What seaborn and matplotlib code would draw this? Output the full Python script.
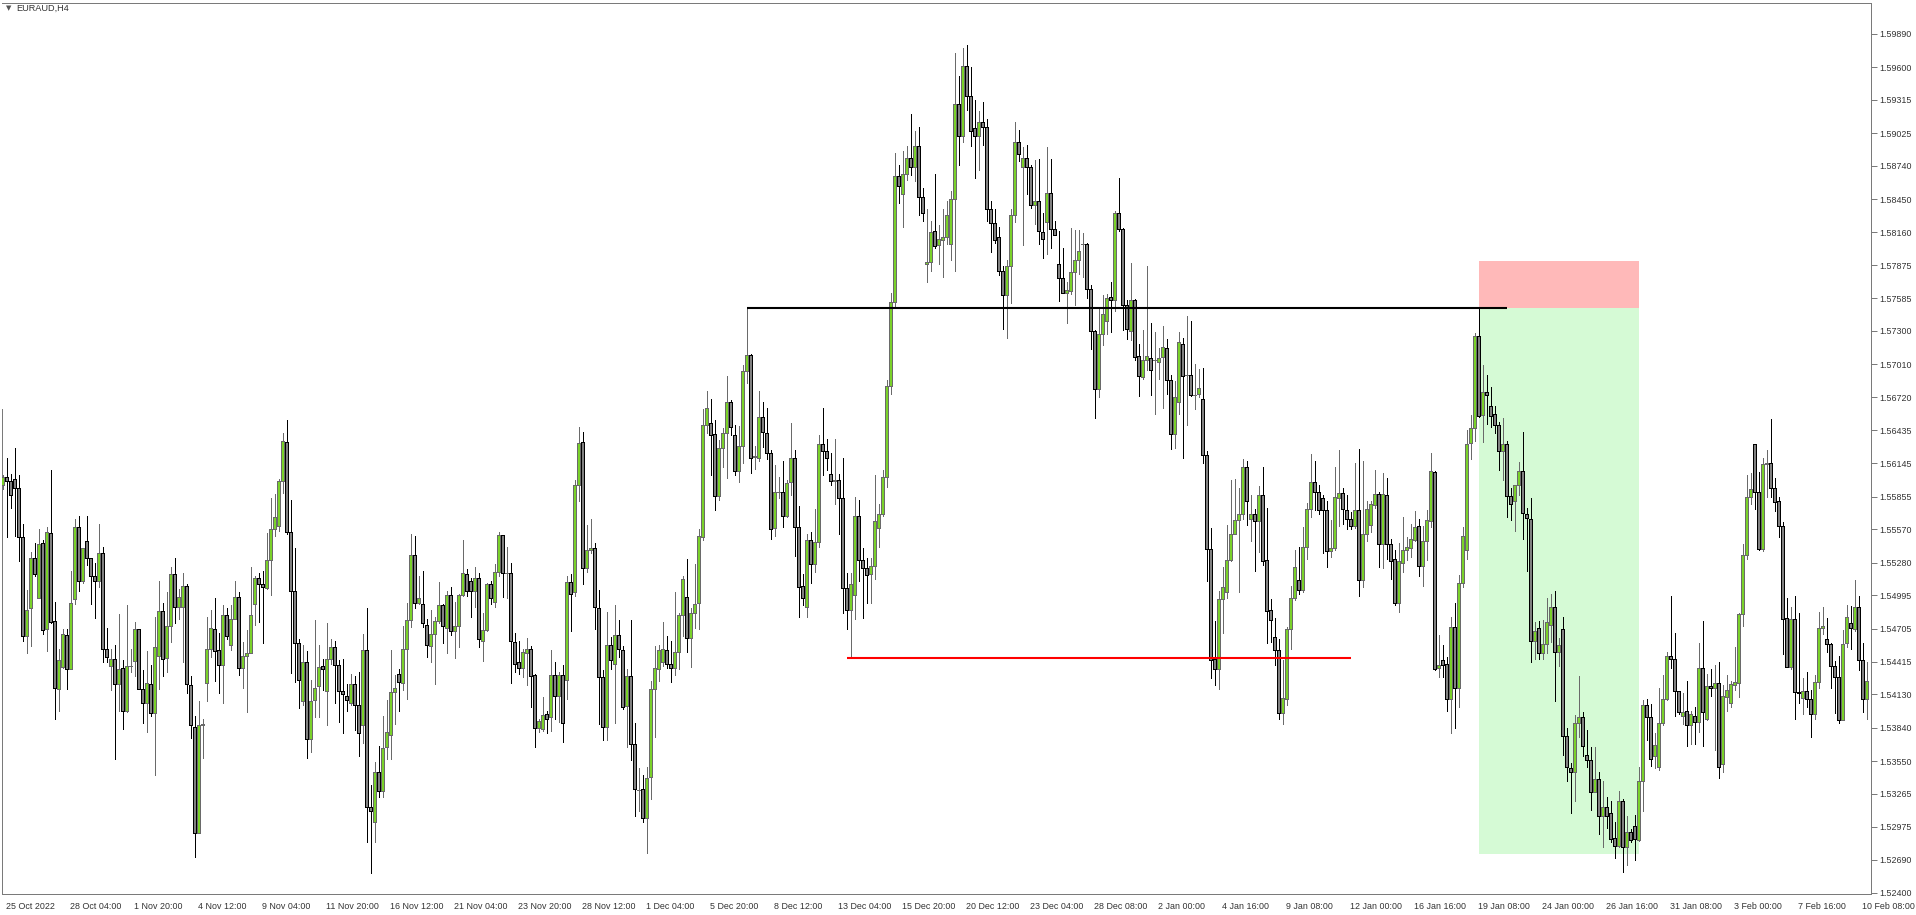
import numpy as np
import matplotlib
matplotlib.use("Agg")
import matplotlib.pyplot as plt
from matplotlib import font_manager
from matplotlib.transforms import ScaledTranslation
import seaborn as sns

symbol = "EURAUD,H4"

# EURAUD H4 candles, 25 Oct 2022 12:00 .. 10 Feb 2023 16:00
opens = [
    1.5596, 1.5603, 1.5599, 1.5601, 1.5593, 1.5550, 1.5464, 1.5488, 1.5532, 1.5497,
    1.5545, 1.5470, 1.5554, 1.5477, 1.5418, 1.5437, 1.5465, 1.5435, 1.5496, 1.5559,
    1.5512, 1.5547, 1.5532, 1.5516, 1.5512, 1.5536, 1.5453, 1.5438, 1.5444, 1.5422,
    1.5436, 1.5399, 1.5438, 1.5442, 1.5470, 1.5418, 1.5406, 1.5422, 1.5397, 1.5447,
    1.5486, 1.5445, 1.5473, 1.5518, 1.5489, 1.5489, 1.5508, 1.5421, 1.5385, 1.5292,
    1.5386, 1.5423, 1.5453, 1.5470, 1.5452, 1.5439, 1.5482, 1.5456, 1.5479, 1.5498,
    1.5436,
    1.5447, 1.5449, 1.5492, 1.5515, 1.5509, 1.5506, 1.5530, 1.5557, 1.5560, 1.5599,
    1.5633, 1.5555, 1.5503, 1.5458, 1.5407, 1.5441, 1.5374, 1.5408, 1.5420, 1.5438,
    1.5416, 1.5444, 1.5454, 1.5439, 1.5416, 1.5412, 1.5406, 1.5422, 1.5404, 1.5386,
    1.5452, 1.5315, 1.5302, 1.5345, 1.5329, 1.5367, 1.5378, 1.5415, 1.5431, 1.5423,
    1.5453, 1.5478, 1.5535, 1.5493, 1.5492, 1.5474, 1.5455, 1.5466, 1.5477, 1.5491,
    1.5471, 1.5500, 1.5468, 1.5473, 1.5500, 1.5518, 1.5512, 1.5503, 1.5515, 1.5460,
    1.5469,
    1.5509, 1.5494, 1.5520, 1.5552, 1.5519, 1.5519, 1.5459, 1.5441, 1.5436, 1.5449,
    1.5453, 1.5430, 1.5384, 1.5383, 1.5396, 1.5393, 1.5430, 1.5412, 1.5430, 1.5426,
    1.5511, 1.5502, 1.5596, 1.5633, 1.5523, 1.5539, 1.5541, 1.5488, 1.5428, 1.5385,
    1.5456, 1.5440, 1.5465, 1.5452, 1.5403, 1.5429, 1.5370, 1.5330, 1.5331, 1.5305,
    1.5341, 1.5418, 1.5435, 1.5441, 1.5452, 1.5440, 1.5436, 1.5450, 1.5482, 1.5498,
    1.5462, 1.5484, 1.5493, 1.5550, 1.5648, 1.5650, 1.5640, 1.5586, 1.5628, 1.5641,
    1.5668,
    1.5639, 1.5608, 1.5630, 1.5695, 1.5709, 1.5620, 1.5619, 1.5655, 1.5641, 1.5624,
    1.5558, 1.5590, 1.5590, 1.5569, 1.5598, 1.5619, 1.5559, 1.5508, 1.5489, 1.5548,
    1.5527, 1.5546, 1.5631, 1.5625, 1.5605, 1.5599, 1.5600, 1.5584, 1.5506, 1.5487,
    1.5500, 1.5569, 1.5530, 1.5523, 1.5518, 1.5525, 1.5558, 1.5570, 1.5603, 1.5682,
    1.5755, 1.5865, 1.5849, 1.5867, 1.5881, 1.5873, 1.5891, 1.5847, 1.5788, 1.5790,
    1.5817, 1.5805, 1.5809, 1.5812, 1.5806, 1.5845, 1.5928, 1.5900, 1.5961, 1.5935,
    1.5907,
    1.5900, 1.5912, 1.5908, 1.5836, 1.5824, 1.5812, 1.5782, 1.5761, 1.5787, 1.5831,
    1.5895, 1.5873, 1.5881, 1.5873, 1.5840, 1.5843, 1.5816, 1.5825, 1.5850, 1.5819,
    1.5788, 1.5776, 1.5763, 1.5765, 1.5781, 1.5792, 1.5806, 1.5806, 1.5767, 1.5730,
    1.5679, 1.5727, 1.5739, 1.5760, 1.5757, 1.5833, 1.5819, 1.5753, 1.5730, 1.5757,
    1.5708, 1.5690, 1.5705, 1.5706, 1.5705, 1.5703, 1.5707, 1.5715, 1.5687, 1.5640,
    1.5668, 1.5719, 1.5692, 1.5692, 1.5674, 1.5675, 1.5671, 1.5622, 1.5540, 1.5444,
    1.5435,
    1.5496, 1.5502, 1.5530, 1.5553, 1.5565, 1.5570, 1.5611, 1.5566, 1.5570, 1.5564,
    1.5587, 1.5530, 1.5487, 1.5463, 1.5452, 1.5397, 1.5409, 1.5470, 1.5497, 1.5513,
    1.5504, 1.5542, 1.5575, 1.5598, 1.5590, 1.5584, 1.5574, 1.5538, 1.5541, 1.5584,
    1.5589, 1.5574, 1.5566, 1.5560, 1.5574, 1.5513, 1.5553, 1.5561, 1.5578, 1.5588,
    1.5544, 1.5587, 1.5544, 1.5531, 1.5493, 1.5528, 1.5539, 1.5541, 1.5548, 1.5560,
    1.5525, 1.5547, 1.5564, 1.5607, 1.5436, 1.5443, 1.5440, 1.5409, 1.5472, 1.5419,
    1.5510,
    1.5539, 1.5632, 1.5645, 1.5726, 1.5657, 1.5677, 1.5665, 1.5658, 1.5648, 1.5625,
    1.5631, 1.5586, 1.5582, 1.5596, 1.5608, 1.5570, 1.5566, 1.5460, 1.5471, 1.5449,
    1.5457, 1.5474, 1.5489, 1.5450, 1.5470, 1.5377, 1.5349, 1.5345, 1.5388, 1.5393,
    1.5360, 1.5356, 1.5328, 1.5339, 1.5307, 1.5315, 1.5310, 1.5288, 1.5281, 1.5320,
    1.5280, 1.5293, 1.5298, 1.5286, 1.5338, 1.5404, 1.5393, 1.5359, 1.5350, 1.5388,
    1.5409, 1.5447, 1.5444, 1.5416, 1.5394,
    1.5399, 1.5386, 1.5394, 1.5389, 1.5436, 1.5392, 1.5420, 1.5419, 1.5423, 1.5352,
    1.5411, 1.5406, 1.5421, 1.5423, 1.5483, 1.5535, 1.5585, 1.5631, 1.5590, 1.5540,
    1.5614, 1.5615, 1.5593, 1.5582, 1.5560, 1.5480, 1.5437, 1.5479, 1.5415, 1.5410,
    1.5416, 1.5409, 1.5396, 1.5424, 1.5471, 1.5461, 1.5457, 1.5438, 1.5428, 1.5391,
    1.5458, 1.5475, 1.5470, 1.5489, 1.5443, 1.5409,
]

highs = [
    1.5604, 1.5619, 1.5605, 1.5628, 1.5604, 1.5562, 1.5504, 1.5537, 1.5545, 1.5557,
    1.5548, 1.5559, 1.5609, 1.5494, 1.5453, 1.5470, 1.5470, 1.5521, 1.5566, 1.5569,
    1.5541, 1.5569, 1.5532, 1.5528, 1.5562, 1.5542, 1.5471, 1.5453, 1.5456, 1.5483,
    1.5443, 1.5491, 1.5453, 1.5476, 1.5470, 1.5434, 1.5451, 1.5439, 1.5481, 1.5512,
    1.5493, 1.5502, 1.5524, 1.5532, 1.5505, 1.5519, 1.5509, 1.5429, 1.5394, 1.5407,
    1.5392, 1.5481, 1.5487, 1.5497, 1.5467, 1.5491, 1.5488, 1.5491, 1.5512, 1.5502,
    1.5459,
    1.5469, 1.5524, 1.5516, 1.5519, 1.5521, 1.5554, 1.5584, 1.5588, 1.5601, 1.5641,
    1.5652, 1.5583, 1.5541, 1.5461, 1.5456, 1.5451, 1.5426, 1.5478, 1.5456, 1.5444,
    1.5475, 1.5461, 1.5460, 1.5443, 1.5444, 1.5422, 1.5431, 1.5429, 1.5433, 1.5466,
    1.5488, 1.5334, 1.5354, 1.5368, 1.5394, 1.5408, 1.5452, 1.5430, 1.5435, 1.5473,
    1.5493, 1.5553, 1.5551, 1.5516, 1.5521, 1.5479, 1.5487, 1.5481, 1.5511, 1.5492,
    1.5503, 1.5507, 1.5494, 1.5501, 1.5548, 1.5522, 1.5515, 1.5524, 1.5519, 1.5484,
    1.5510,
    1.5512, 1.5527, 1.5555, 1.5552, 1.5542, 1.5528, 1.5467, 1.5460, 1.5453, 1.5462,
    1.5455, 1.5431, 1.5392, 1.5411, 1.5399, 1.5452, 1.5441, 1.5433, 1.5439, 1.5516,
    1.5518, 1.5600, 1.5646, 1.5642, 1.5561, 1.5566, 1.5545, 1.5504, 1.5434, 1.5485,
    1.5463, 1.5491, 1.5478, 1.5455, 1.5435, 1.5478, 1.5388, 1.5349, 1.5343, 1.5350,
    1.5425, 1.5455, 1.5456, 1.5476, 1.5464, 1.5460, 1.5502, 1.5484, 1.5516, 1.5531,
    1.5488, 1.5527, 1.5557, 1.5662, 1.5678, 1.5671, 1.5652, 1.5635, 1.5645, 1.5691,
    1.5670,
    1.5648, 1.5647, 1.5700, 1.5750, 1.5710, 1.5630, 1.5678, 1.5668, 1.5663, 1.5626,
    1.5613, 1.5603, 1.5617, 1.5600, 1.5650, 1.5626, 1.5577, 1.5518, 1.5553, 1.5555,
    1.5575, 1.5639, 1.5663, 1.5636, 1.5624, 1.5636, 1.5605, 1.5619, 1.5519, 1.5519,
    1.5585, 1.5583, 1.5541, 1.5532, 1.5532, 1.5604, 1.5579, 1.5609, 1.5687, 1.5763,
    1.5885, 1.5875, 1.5887, 1.5891, 1.5919, 1.5904, 1.5908, 1.5855, 1.5836, 1.5826,
    1.5867, 1.5822, 1.5836, 1.5843, 1.5852, 1.5972, 1.5952, 1.5977, 1.5979, 1.5960,
    1.5931,
    1.5922, 1.5930, 1.5915, 1.5843, 1.5836, 1.5821, 1.5787, 1.5792, 1.5836, 1.5912,
    1.5905, 1.5890, 1.5892, 1.5875, 1.5879, 1.5880, 1.5833, 1.5890, 1.5880, 1.5826,
    1.5817, 1.5802, 1.5773, 1.5820, 1.5818, 1.5818, 1.5815, 1.5807, 1.5770, 1.5731,
    1.5749, 1.5761, 1.5762, 1.5773, 1.5835, 1.5863, 1.5820, 1.5757, 1.5789, 1.5758,
    1.5719, 1.5731, 1.5787, 1.5737, 1.5729, 1.5715, 1.5734, 1.5723, 1.5692, 1.5686,
    1.5729, 1.5724, 1.5743, 1.5739, 1.5701, 1.5697, 1.5698, 1.5625, 1.5558, 1.5477,
    1.5503,
    1.5524, 1.5561, 1.5600, 1.5601, 1.5593, 1.5618, 1.5617, 1.5587, 1.5575, 1.5595,
    1.5611, 1.5576, 1.5496, 1.5480, 1.5461, 1.5443, 1.5472, 1.5508, 1.5539, 1.5542,
    1.5559, 1.5580, 1.5623, 1.5617, 1.5596, 1.5587, 1.5582, 1.5565, 1.5611, 1.5626,
    1.5593, 1.5587, 1.5572, 1.5615, 1.5627, 1.5617, 1.5582, 1.5582, 1.5609, 1.5590,
    1.5606, 1.5602, 1.5549, 1.5539, 1.5545, 1.5568, 1.5550, 1.5562, 1.5573, 1.5566,
    1.5560, 1.5574, 1.5624, 1.5608, 1.5465, 1.5456, 1.5446, 1.5481, 1.5493, 1.5517,
    1.5559,
    1.5644, 1.5657, 1.5728, 1.5750, 1.5700, 1.5692, 1.5681, 1.5665, 1.5651, 1.5654,
    1.5634, 1.5593, 1.5596, 1.5616, 1.5642, 1.5576, 1.5584, 1.5476, 1.5477, 1.5478,
    1.5497, 1.5501, 1.5503, 1.5462, 1.5481, 1.5384, 1.5353, 1.5395, 1.5429, 1.5398,
    1.5382, 1.5367, 1.5367, 1.5345, 1.5338, 1.5324, 1.5320, 1.5302, 1.5329, 1.5322,
    1.5307, 1.5296, 1.5308, 1.5350, 1.5408, 1.5409, 1.5405, 1.5379, 1.5419, 1.5430,
    1.5450, 1.5499, 1.5467, 1.5416, 1.5414,
    1.5425, 1.5399, 1.5402, 1.5458, 1.5477, 1.5431, 1.5435, 1.5439, 1.5441, 1.5421,
    1.5430, 1.5425, 1.5454, 1.5484, 1.5544, 1.5604, 1.5606, 1.5631, 1.5607, 1.5619,
    1.5626, 1.5653, 1.5602, 1.5585, 1.5563, 1.5497, 1.5489, 1.5499, 1.5484, 1.5427,
    1.5433, 1.5417, 1.5430, 1.5485, 1.5489, 1.5480, 1.5458, 1.5442, 1.5447, 1.5469,
    1.5491, 1.5490, 1.5513, 1.5499, 1.5458, 1.5441,
]

lows = [
    1.5592, 1.5550, 1.5576, 1.5551, 1.5529, 1.5460, 1.5449, 1.5455, 1.5516, 1.5497,
    1.5466, 1.5451, 1.5475, 1.5392, 1.5399, 1.5436, 1.5418, 1.5435, 1.5492, 1.5503,
    1.5510, 1.5526, 1.5492, 1.5480, 1.5507, 1.5441, 1.5441, 1.5417, 1.5357, 1.5399,
    1.5383, 1.5398, 1.5433, 1.5429, 1.5418, 1.5388, 1.5380, 1.5394, 1.5343, 1.5418,
    1.5429, 1.5433, 1.5459, 1.5475, 1.5479, 1.5441, 1.5414, 1.5375, 1.5271, 1.5292,
    1.5358, 1.5407, 1.5446, 1.5425, 1.5414, 1.5406, 1.5461, 1.5452, 1.5479, 1.5430,
    1.5419,
    1.5398, 1.5449, 1.5474, 1.5476, 1.5458, 1.5505, 1.5500, 1.5551, 1.5556, 1.5589,
    1.5553, 1.5432, 1.5424, 1.5401, 1.5404, 1.5358, 1.5363, 1.5393, 1.5393, 1.5417,
    1.5386, 1.5440, 1.5406, 1.5389, 1.5379, 1.5399, 1.5404, 1.5382, 1.5359, 1.5371,
    1.5284, 1.5257, 1.5284, 1.5324, 1.5324, 1.5357, 1.5357, 1.5387, 1.5399, 1.5417,
    1.5409, 1.5472, 1.5488, 1.5492, 1.5472, 1.5446, 1.5441, 1.5422, 1.5475, 1.5458,
    1.5449, 1.5465, 1.5445, 1.5454, 1.5499, 1.5499, 1.5481, 1.5489, 1.5454, 1.5442,
    1.5468,
    1.5492, 1.5489, 1.5516, 1.5498, 1.5497, 1.5423, 1.5433, 1.5431, 1.5428, 1.5421,
    1.5402, 1.5367, 1.5380, 1.5381, 1.5379, 1.5381, 1.5392, 1.5389, 1.5372, 1.5409,
    1.5468, 1.5499, 1.5582, 1.5509, 1.5520, 1.5536, 1.5470, 1.5387, 1.5373, 1.5373,
    1.5435, 1.5388, 1.5446, 1.5400, 1.5367, 1.5356, 1.5307, 1.5311, 1.5302, 1.5275,
    1.5322, 1.5376, 1.5425, 1.5438, 1.5436, 1.5424, 1.5430, 1.5435, 1.5464, 1.5450,
    1.5437, 1.5471, 1.5470, 1.5548, 1.5641, 1.5604, 1.5574, 1.5583, 1.5611, 1.5602,
    1.5639,
    1.5604, 1.5598, 1.5615, 1.5685, 1.5606, 1.5610, 1.5617, 1.5629, 1.5618, 1.5549,
    1.5551, 1.5584, 1.5559, 1.5568, 1.5587, 1.5534, 1.5481, 1.5491, 1.5481, 1.5510,
    1.5520, 1.5542, 1.5604, 1.5609, 1.5596, 1.5579, 1.5553, 1.5484, 1.5470, 1.5445,
    1.5479, 1.5512, 1.5480, 1.5493, 1.5493, 1.5514, 1.5542, 1.5569, 1.5594, 1.5675,
    1.5752, 1.5842, 1.5821, 1.5862, 1.5866, 1.5861, 1.5831, 1.5826, 1.5773, 1.5782,
    1.5802, 1.5788, 1.5777, 1.5806, 1.5792, 1.5782, 1.5875, 1.5895, 1.5923, 1.5891,
    1.5863,
    1.5870, 1.5892, 1.5826, 1.5799, 1.5807, 1.5779, 1.5732, 1.5724, 1.5754, 1.5825,
    1.5878, 1.5805, 1.5849, 1.5837, 1.5823, 1.5806, 1.5794, 1.5797, 1.5802, 1.5814,
    1.5756, 1.5763, 1.5737, 1.5762, 1.5753, 1.5780, 1.5777, 1.5759, 1.5714, 1.5654,
    1.5672, 1.5718, 1.5727, 1.5729, 1.5747, 1.5817, 1.5731, 1.5723, 1.5722, 1.5705,
    1.5673, 1.5688, 1.5696, 1.5674, 1.5658, 1.5688, 1.5663, 1.5675, 1.5627, 1.5628,
    1.5658, 1.5619, 1.5648, 1.5673, 1.5662, 1.5672, 1.5615, 1.5512, 1.5427, 1.5421,
    1.5418,
    1.5467, 1.5497, 1.5529, 1.5553, 1.5502, 1.5566, 1.5561, 1.5547, 1.5521, 1.5537,
    1.5526, 1.5458, 1.5459, 1.5439, 1.5392, 1.5387, 1.5404, 1.5453, 1.5495, 1.5501,
    1.5502, 1.5531, 1.5568, 1.5574, 1.5570, 1.5536, 1.5524, 1.5533, 1.5539, 1.5560,
    1.5562, 1.5557, 1.5557, 1.5558, 1.5499, 1.5507, 1.5547, 1.5555, 1.5576, 1.5524,
    1.5523, 1.5531, 1.5514, 1.5491, 1.5485, 1.5520, 1.5530, 1.5533, 1.5547, 1.5516,
    1.5508, 1.5530, 1.5559, 1.5434, 1.5428, 1.5428, 1.5399, 1.5379, 1.5384, 1.5402,
    1.5507,
    1.5531, 1.5618, 1.5634, 1.5655, 1.5633, 1.5649, 1.5646, 1.5641, 1.5609, 1.5600,
    1.5568, 1.5565, 1.5556, 1.5587, 1.5549, 1.5521, 1.5441, 1.5444, 1.5444, 1.5444,
    1.5449, 1.5459, 1.5407, 1.5438, 1.5360, 1.5338, 1.5310, 1.5320, 1.5376, 1.5359,
    1.5350, 1.5312, 1.5328, 1.5291, 1.5280, 1.5297, 1.5284, 1.5270, 1.5280, 1.5258,
    1.5264, 1.5284, 1.5269, 1.5285, 1.5311, 1.5373, 1.5351, 1.5349, 1.5347, 1.5386,
    1.5408, 1.5436, 1.5394, 1.5396, 1.5387,
    1.5368, 1.5370, 1.5370, 1.5380, 1.5368, 1.5391, 1.5412, 1.5365, 1.5340, 1.5345,
    1.5399, 1.5402, 1.5417, 1.5411, 1.5473, 1.5531, 1.5579, 1.5575, 1.5539, 1.5538,
    1.5585, 1.5585, 1.5573, 1.5550, 1.5448, 1.5437, 1.5435, 1.5392, 1.5406, 1.5396,
    1.5402, 1.5376, 1.5392, 1.5419, 1.5466, 1.5450, 1.5419, 1.5397, 1.5388, 1.5391,
    1.5454, 1.5453, 1.5468, 1.5434, 1.5398, 1.5392,
]

closes = [
    1.5603, 1.5599, 1.5587, 1.5593, 1.5550, 1.5464, 1.5487, 1.5532, 1.5518, 1.5544,
    1.5469, 1.5555, 1.5476, 1.5419, 1.5443, 1.5466, 1.5435, 1.5493, 1.5559, 1.5512,
    1.5541, 1.5532, 1.5516, 1.5512, 1.5536, 1.5453, 1.5446, 1.5444, 1.5422, 1.5435,
    1.5399, 1.5438, 1.5438, 1.5470, 1.5418, 1.5406, 1.5423, 1.5397, 1.5454, 1.5486,
    1.5444, 1.5473, 1.5518, 1.5489, 1.5498, 1.5508, 1.5422, 1.5386, 1.5292, 1.5386,
    1.5387, 1.5453, 1.5471, 1.5451, 1.5439, 1.5482, 1.5464, 1.5479, 1.5498, 1.5436,
    1.5447,
    1.5449, 1.5482, 1.5515, 1.5509, 1.5507, 1.5530, 1.5557, 1.5568, 1.5599, 1.5634,
    1.5555, 1.5503, 1.5458, 1.5426, 1.5441, 1.5374, 1.5407, 1.5419, 1.5437, 1.5435,
    1.5444, 1.5454, 1.5439, 1.5416, 1.5413, 1.5408, 1.5422, 1.5404, 1.5379, 1.5452,
    1.5315, 1.5311, 1.5345, 1.5329, 1.5366, 1.5380, 1.5415, 1.5419, 1.5424, 1.5453,
    1.5478, 1.5535, 1.5493, 1.5497, 1.5475, 1.5456, 1.5466, 1.5477, 1.5491, 1.5473,
    1.5500, 1.5468, 1.5473, 1.5500, 1.5519, 1.5503, 1.5503, 1.5515, 1.5461, 1.5469,
    1.5509,
    1.5497, 1.5520, 1.5552, 1.5519, 1.5519, 1.5460, 1.5440, 1.5436, 1.5450, 1.5453,
    1.5429, 1.5384, 1.5390, 1.5395, 1.5392, 1.5430, 1.5412, 1.5430, 1.5388, 1.5511,
    1.5501, 1.5596, 1.5632, 1.5523, 1.5539, 1.5541, 1.5489, 1.5428, 1.5385, 1.5456,
    1.5443, 1.5465, 1.5453, 1.5402, 1.5429, 1.5370, 1.5331, 1.5330, 1.5305, 1.5340,
    1.5418, 1.5436, 1.5452, 1.5453, 1.5440, 1.5436, 1.5450, 1.5482, 1.5514, 1.5462,
    1.5484, 1.5492, 1.5551, 1.5648, 1.5663, 1.5639, 1.5586, 1.5628, 1.5641, 1.5668,
    1.5646,
    1.5608, 1.5630, 1.5695, 1.5709, 1.5619, 1.5621, 1.5655, 1.5642, 1.5624, 1.5557,
    1.5590, 1.5590, 1.5569, 1.5597, 1.5619, 1.5559, 1.5507, 1.5497, 1.5548, 1.5527,
    1.5546, 1.5631, 1.5625, 1.5619, 1.5599, 1.5600, 1.5584, 1.5506, 1.5487, 1.5509,
    1.5569, 1.5530, 1.5523, 1.5517, 1.5525, 1.5564, 1.5570, 1.5603, 1.5682, 1.5755,
    1.5865, 1.5856, 1.5867, 1.5881, 1.5873, 1.5891, 1.5847, 1.5833, 1.5790, 1.5816,
    1.5804, 1.5810, 1.5812, 1.5831, 1.5845, 1.5928, 1.5900, 1.5961, 1.5935, 1.5904,
    1.5900,
    1.5912, 1.5908, 1.5836, 1.5824, 1.5809, 1.5782, 1.5761, 1.5787, 1.5831, 1.5895,
    1.5884, 1.5881, 1.5873, 1.5840, 1.5843, 1.5817, 1.5810, 1.5850, 1.5819, 1.5814,
    1.5776, 1.5763, 1.5766, 1.5781, 1.5792, 1.5800, 1.5806, 1.5767, 1.5730, 1.5679,
    1.5727, 1.5745, 1.5759, 1.5757, 1.5833, 1.5819, 1.5753, 1.5732, 1.5757, 1.5707,
    1.5691, 1.5705, 1.5708, 1.5696, 1.5705, 1.5706, 1.5716, 1.5687, 1.5640, 1.5672,
    1.5720, 1.5691, 1.5692, 1.5674, 1.5674, 1.5680, 1.5622, 1.5540, 1.5443, 1.5435,
    1.5496,
    1.5507, 1.5530, 1.5553, 1.5565, 1.5570, 1.5611, 1.5582, 1.5570, 1.5564, 1.5587,
    1.5529, 1.5486, 1.5478, 1.5452, 1.5397, 1.5410, 1.5470, 1.5497, 1.5524, 1.5504,
    1.5542, 1.5575, 1.5598, 1.5590, 1.5574, 1.5574, 1.5538, 1.5541, 1.5585, 1.5589,
    1.5575, 1.5566, 1.5560, 1.5574, 1.5513, 1.5553, 1.5575, 1.5579, 1.5588, 1.5544,
    1.5588, 1.5544, 1.5529, 1.5493, 1.5529, 1.5539, 1.5542, 1.5549, 1.5559, 1.5525,
    1.5547, 1.5565, 1.5608, 1.5435, 1.5439, 1.5439, 1.5409, 1.5472, 1.5419, 1.5510,
    1.5551,
    1.5631, 1.5645, 1.5726, 1.5656, 1.5677, 1.5674, 1.5656, 1.5648, 1.5625, 1.5631,
    1.5586, 1.5579, 1.5596, 1.5608, 1.5571, 1.5567, 1.5460, 1.5468, 1.5449, 1.5457,
    1.5476, 1.5489, 1.5450, 1.5456, 1.5377, 1.5350, 1.5345, 1.5388, 1.5393, 1.5368,
    1.5356, 1.5328, 1.5339, 1.5307, 1.5315, 1.5307, 1.5287, 1.5281, 1.5320, 1.5280,
    1.5293, 1.5286, 1.5287, 1.5338, 1.5404, 1.5393, 1.5357, 1.5369, 1.5388, 1.5409,
    1.5447, 1.5444, 1.5416, 1.5398, 1.5398,
    1.5386, 1.5396, 1.5389, 1.5436, 1.5398, 1.5420, 1.5419, 1.5423, 1.5350, 1.5412,
    1.5417, 1.5422, 1.5424, 1.5483, 1.5535, 1.5585, 1.5592, 1.5590, 1.5540, 1.5614,
    1.5615, 1.5593, 1.5581, 1.5560, 1.5479, 1.5437, 1.5479, 1.5415, 1.5414, 1.5416,
    1.5409, 1.5396, 1.5424, 1.5471, 1.5473, 1.5457, 1.5438, 1.5428, 1.5391, 1.5457,
    1.5481, 1.5471, 1.5489, 1.5443, 1.5409, 1.5425,
]

# time labels, one every 16 bars
time_labels = [
    "25 Oct 2022", "28 Oct 04:00", "1 Nov 20:00", "4 Nov 12:00", "9 Nov 04:00",
    "11 Nov 20:00", "16 Nov 12:00", "21 Nov 04:00", "23 Nov 20:00", "28 Nov 12:00",
    "1 Dec 04:00", "5 Dec 20:00", "8 Dec 12:00", "13 Dec 04:00", "15 Dec 20:00",
    "20 Dec 12:00", "23 Dec 04:00", "28 Dec 08:00", "2 Jan 00:00", "4 Jan 16:00",
    "9 Jan 08:00", "12 Jan 00:00", "16 Jan 16:00", "19 Jan 08:00", "24 Jan 00:00",
    "26 Jan 16:00", "31 Jan 08:00", "3 Feb 00:00", "7 Feb 16:00", "10 Feb 08:00",
]
label_step = 16

price_ticks = [
    1.59890, 1.59600, 1.59315, 1.59025, 1.58740, 1.58450, 1.58160, 1.57875,
    1.57585, 1.57300, 1.57010, 1.56720, 1.56435, 1.56145, 1.55855, 1.55570,
    1.55280, 1.54995, 1.54705, 1.54415, 1.54130, 1.53840, 1.53550, 1.53265,
    1.52975, 1.52690, 1.52400,
]

# drawn objects
high_level = 1.5750
high_level_bars = (186, 376)
low_level = 1.5445
low_level_bars = (211, 337)
trade_bars = (369, 409)
trade_entry = 1.5750
trade_stop = 1.5791
trade_target = 1.5274
left_border_top = 1.5662

# ---------------------------------------------------------------------------
sns.set_style("white")
names = {f.name for f in font_manager.fontManager.ttflist}
base_font = "Liberation Sans Narrow" if "Liberation Sans Narrow" in names else "Liberation Sans"
plt.rcParams["font.family"] = [base_font, "DejaVu Sans"]

W, H = 1916, 915
fig = plt.figure(figsize=(W / 100, H / 100), dpi=100)
fig.patch.set_facecolor("white")
left_px, right_px, top_px, bottom_px = 2, 1871, 3, 894
ax = fig.add_axes([left_px / W, (H - bottom_px) / H,
                   (right_px - left_px) / W, (bottom_px - top_px) / H])
ax.set_facecolor("white")

o = np.array(opens)
h = np.array(highs)
l = np.array(lows)
c = np.array(closes)
idx = np.arange(len(o))
up = c >= o
dn = ~up

bull_fill, bull_line = "#7ad12a", "#6a6a6a"
bear_fill, bear_line = "#808080", "#000000"
px = 0.72  # one pixel in points

# trade zones
ax.fill_between(trade_bars, trade_entry, trade_stop, color="#ffb9b9", lw=0, zorder=0)
ax.fill_between(trade_bars, trade_target, trade_entry, color="#d5fad5", lw=0, zorder=0)

# wicks
ax.vlines(idx[up], l[up], h[up], color=bull_line, lw=px, zorder=2, antialiased=False)
ax.vlines(idx[dn], l[dn], h[dn], color=bear_line, lw=px, zorder=2, antialiased=False)

# bodies
ax.bar(idx[up], c[up] - o[up], bottom=o[up], width=0.72, color=bull_fill,
       edgecolor=bull_line, linewidth=px, zorder=3, antialiased=False)
ax.bar(idx[dn], c[dn] - o[dn], bottom=o[dn], width=0.72, color=bear_fill,
       edgecolor=bear_line, linewidth=px, zorder=3, antialiased=False)

# horizontal levels
ax.hlines(high_level, *high_level_bars, color="black", lw=1.5, zorder=4)
ax.hlines(low_level, *low_level_bars, color="#ff0000", lw=1.5, zorder=4)

y_lo = 1.60186 - 8.72e-5 * bottom_px
y_hi = 1.60186 - 8.72e-5 * top_px
ax.set_xlim((left_px - 2.7) / 4, (right_px - 2.7) / 4)
ax.set_ylim(y_lo, y_hi)

# axes look
for side in ["top", "bottom", "right", "left"]:
    ax.spines[side].set_color("#7a7a7a")
    ax.spines[side].set_linewidth(px)
ax.spines["left"].set_bounds(y_lo, left_border_top)

ax.yaxis.tick_right()
ax.set_yticks(price_ticks)
ax.set_yticklabels([f"{v:.5f}" for v in price_ticks])
ax.tick_params(axis="y", direction="out", length=4, width=px, color="#7a7a7a",
               labelsize=6.4, labelcolor="#333333", pad=2)

ax.set_xticks(np.arange(len(time_labels)) * label_step)
ax.set_xticklabels(time_labels)
ax.tick_params(axis="x", direction="out", length=5, width=px, color="#7a7a7a",
               labelsize=6.4, labelcolor="#333333", pad=1)
offset = ScaledTranslation(3 / 100, 0, fig.dpi_scale_trans)
for lab in ax.get_xticklabels():
    lab.set_horizontalalignment("left")
    lab.set_transform(lab.get_transform() + offset)

ax.grid(False)

fig.text(6 / W, 1 - 8 / H, "\u25bc", fontsize=5, color="#555555",
         va="center", ha="left", family=["DejaVu Sans"])
fig.text(16 / W, 1 - 8 / H, symbol, fontsize=6.6, color="#333333",
         va="center", ha="left")

fig.savefig("out.png", dpi=100, facecolor="white")
